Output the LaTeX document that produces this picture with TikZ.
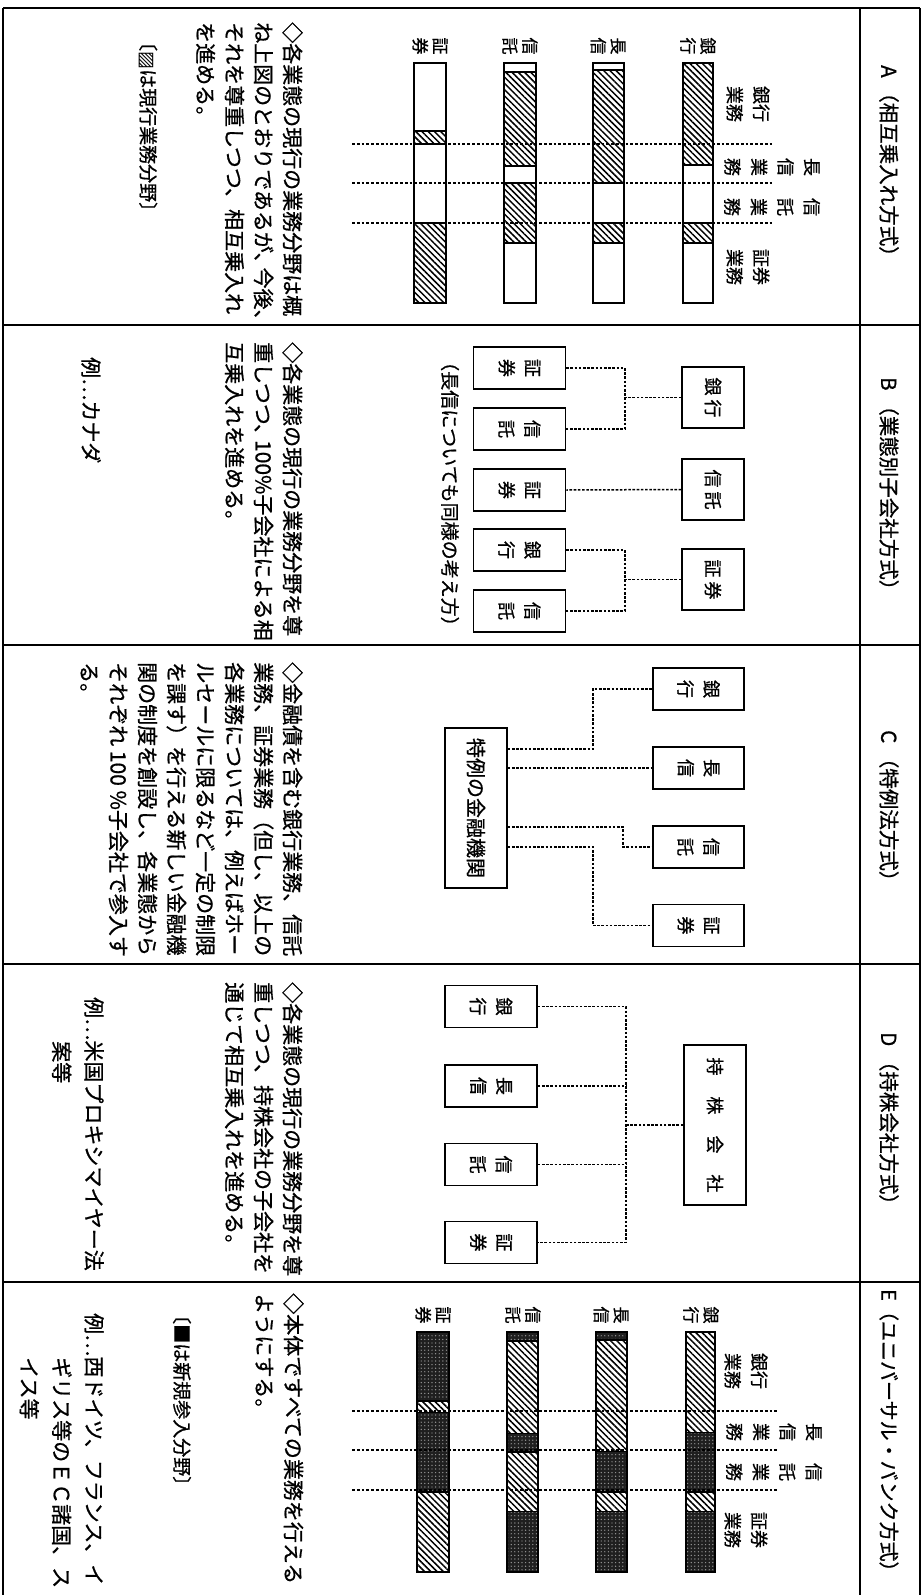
\documentclass[tikz,border=0pt]{standalone}
\usepackage{fontspec}
\setmainfont{Noto Sans CJK JP}[FakeBold=0.8]
\newfontfamily\djv{DejaVu Sans}
\usetikzlibrary{patterns.meta}
\newcommand\jbody{\fontsize{21pt}{29pt}\selectfont}
\newcommand\jhead{\fontsize{20.5pt}{24pt}\selectfont}
\newcommand\jnote{\fontsize{19pt}{24pt}\selectfont}
\newcommand\jlab{\fontsize{17pt}{20pt}\selectfont}
\newcommand\jcol{\fontsize{18pt}{26.5pt}\selectfont}
\newcommand\jbox{\fontsize{18pt}{26pt}\selectfont}
\newcommand\jex{\fontsize{21pt}{32.5pt}\selectfont}
\newcommand\hseg[4]{\draw[barline,hatchfill] (#1,#3) rectangle (#2,#4);}
\newcommand\dseg[4]{\path[darkfill] (#1,#3) rectangle (#2,#4);}
\newcommand\bout[4]{\draw[barline] (#1,#3) rectangle (#2,#4);}
\tikzset{
 tframe/.style={line width=1.8pt},
 hdr/.style={rotate=-90, anchor=west, inner sep=0pt, font=\jhead},
 txtb/.style={rotate=-90, anchor=north west, inner sep=0pt, align=left, font=\jbody},
 notes/.style={rotate=-90, anchor=west, inner sep=0pt, font=\jnote},
 exm/.style={rotate=-90, anchor=north west, inner sep=0pt, align=left, font=\jex},
 blab/.style={rotate=-90, inner sep=0pt, align=center, font=\jlab},
 colh/.style={rotate=-90, inner sep=0pt, align=center, font=\jcol},
 jbx/.style={draw, line width=1.5pt, fill=white, rotate=-90, inner sep=0pt, align=center, font=\jbox},
 kid/.style={jbx, minimum width=42pt, minimum height=92pt},
 conn/.style={line width=1.5pt, dash pattern=on 2.6pt off 1.6pt},
 guide/.style={line width=1.4pt, dash pattern=on 2.8pt off 2pt},
 barline/.style={line width=1.4pt},
 hatchfill/.style={pattern={Lines[angle=-45,distance=4.4pt,line width=1.5pt]}},
 darkfill/.style={fill=black!88, postaction={pattern={Dots[distance=3.6pt,radius=0.7pt]}, pattern color=black!40}},
}
\begin{document}
\begin{tikzpicture}[x=1pt,y=-1pt]
\useasboundingbox (0,0) rectangle (923,1595);
\fill[white] (0,0) rectangle (923,1595);
% frame
\draw[tframe] (3,8) -- (920,8);
\draw[tframe] (3,8) -- (3,1600);
\draw[tframe] (920,8) -- (920,1600);
\draw[tframe] (860,8) -- (860,1600);
\draw[tframe] (3,325) -- (920,325);
\draw[tframe] (3,645) -- (920,645);
\draw[tframe] (3,964) -- (920,964);
\draw[tframe] (3,1282) -- (920,1282);
% headers
\node[hdr] (hA) at (889,65) {A （相互乗入れ方式）};
\node[hdr] (hB) at (889,377) {B （業態別子会社方式）};
\node[hdr] (hC) at (889,730) {C （特例法方式）};
\node[hdr] (hD) at (889,1032) {D （持株会社方式）};
\node[hdr, font=\fontsize{20pt}{24pt}\selectfont] (hE) at (889,1289) {E（ユニバーサル・バンク方式）};
% ---------- A ----------
\hseg{683}{713}{63}{165} \hseg{683}{713}{223}{243}
\hseg{593}{624}{70}{183} \hseg{593}{624}{223}{243}
\hseg{504}{536}{72}{166} \hseg{504}{536}{183}{243}
\hseg{414}{446}{131}{144} \hseg{414}{446}{223}{303}
\draw[guide] (352,144) -- (773,144);
\draw[guide] (352,183) -- (773,183);
\draw[guide] (352,223) -- (773,223);
\bout{683}{713}{63}{303} \bout{593}{624}{63}{303}
\bout{504}{536}{63}{303} \bout{414}{446}{63}{303}
\node[blab] (lA1) at (430,46) {証\\券};
\node[blab] (lA2) at (520,46) {信\\託};
\node[blab] (lA3) at (608,46) {長\\信};
\node[blab] (lA4) at (698,46) {銀\\行};
\node[colh] (kA1) at (748,104) {銀行\\業務};
\node[colh] (kA2) at (772,167) {長\\信\\業\\務};
\node[colh] (kA3) at (772,207) {信\\託\\業\\務};
\node[colh] (kA4) at (748,267) {証券\\業務};
\node[txtb] (tA) at (303,22) {◇各業態の現行の業務分野は概\\ね上図のとおりであるが、\kern-6pt 今後、\\それを尊重しつつ、相互乗入れ\\を進める。};
\node[notes] (nA) at (148,32) {〔{\djv ▨}は現行業務分野〕};
% ---------- B ----------
\coordinate (jB) at (625,0);
\node[kid] (b1) at (519.5,368) {証\\券};
\node[kid] (b2) at (519.5,429) {信\\託};
\node[kid] (b3) at (519.5,490) {証\\券};
\node[kid] (b4) at (519.5,550) {銀\\行};
\node[kid] (b5) at (519.5,611) {信\\託};
\node[jbx, minimum width=61pt, minimum height=62pt] (bp1) at (713,397.5) {銀\hspace{4pt}行};
\node[jbx, minimum width=61pt, minimum height=62pt] (bp2) at (713,489.5) {信\hspace{4pt}託};
\node[jbx, minimum width=61pt, minimum height=62pt] (bp3) at (713,579.5) {証\hspace{4pt}券};
\draw[conn] (bp1.south) -- (bp1.south -| jB);
\draw[conn] (b1.north) -- (b1.north -| jB) -- (b2.north -| jB) -- (b2.north);
\draw[conn] (bp2.south) -- (b3.north);
\draw[conn] (bp3.south) -- (bp3.south -| jB);
\draw[conn] (b4.north) -- (b4.north -| jB) -- (b5.north -| jB) -- (b5.north);
\node[notes] (nB) at (450,352) {（長信についても同様の考え方）};
\node[txtb] (tB) at (303,342) {◇各業態の現行の業務分野を尊\\重しつつ、\kern-5pt 100\%子会社による相\\互乗入れを進める。};
\node[exm] (eB) at (101,357) {例…カナダ};
% ---------- C ----------
\node[jbx, minimum width=160pt, minimum height=62pt, font=\fontsize{20pt}{24pt}\selectfont] (cm) at (476,808) {特例の金融機関};
\node[kid, minimum height=91pt] (c1) at (698.5,689) {銀\\行};
\node[kid, minimum height=91pt] (c2) at (698.5,768) {長\\信};
\node[kid, minimum height=91pt] (c3) at (698.5,847) {信\\託};
\node[kid, minimum height=91pt] (c4) at (698.5,925.5) {証\\券};
\coordinate (jC1) at (593,749);
\coordinate (jC3) at (623,827);
\coordinate (jC4) at (593,847);
\draw[conn] (jC1 -| cm.north) -- (jC1) |- (c1.south);
\draw[conn] (cm.north |- c2.south) -- (c2.south);
\draw[conn] (jC3 -| cm.north) -- (jC3) |- (c3.south);
\draw[conn] (jC4 -| cm.north) -- (jC4) |- (c4.south);
\node[txtb] (tC) at (303,662) {◇金融債を含む銀行業務、信託\\業務、証券業務（但し、以上の\\各業務については、例えばホー\\ルセールに限るなど一定の制限\\を課す）を行える新しい金融機\\関の制度を創設し、各業態から\\それぞれ 100 \%子会社で参入す\\る。};
% ---------- D ----------
\node[kid] (d1) at (491,1006.5) {銀\\行};
\node[kid] (d2) at (491,1086) {長\\信};
\node[kid] (d3) at (491,1164.5) {信\\託};
\node[kid] (d4) at (491,1242.5) {証\\券};
\node[jbx, minimum width=160pt, minimum height=62pt] (dp) at (715,1125) {持\hspace{21pt}株\hspace{21pt}会\hspace{21pt}社};
\coordinate (jD) at (626,0);
\draw[conn] (d1.north) -- (d1.north -| jD) -- (d4.north -| jD) -- (d4.north);
\draw[conn] (d2.north) -- (d2.north -| jD);
\draw[conn] (d3.north) -- (d3.north -| jD);
\draw[conn] (dp.south) -- (dp.south -| jD);
\node[txtb] (tD) at (303,982) {◇各業態の現行の業務分野を尊\\重しつつ、持株会社の子会社を\\通じて相互乗入れを進める。};
\node[exm] (eD) at (104,997) {例…米国プロキシマイヤー法\\\hspace*{44pt}案等};
% ---------- E ----------
\hseg{686}{715}{1332}{1433} \dseg{686}{715}{1433}{1492} \hseg{686}{715}{1492}{1512} \dseg{686}{715}{1512}{1572}
\dseg{596}{627}{1332}{1340} \hseg{596}{627}{1340}{1452} \dseg{596}{627}{1452}{1492} \hseg{596}{627}{1492}{1512} \dseg{596}{627}{1512}{1572}
\dseg{507}{538}{1332}{1341} \hseg{507}{538}{1341}{1434} \dseg{507}{538}{1434}{1452} \hseg{507}{538}{1452}{1512} \dseg{507}{538}{1512}{1572}
\dseg{417}{449}{1332}{1401} \hseg{417}{449}{1401}{1413} \dseg{417}{449}{1413}{1492} \hseg{417}{449}{1492}{1572}
\draw[guide] (352,1411) -- (777,1411);
\draw[guide] (352,1450) -- (777,1450);
\draw[guide] (352,1490) -- (777,1490);
\bout{686}{715}{1332}{1572} \bout{596}{627}{1332}{1572}
\bout{507}{538}{1332}{1572} \bout{417}{449}{1332}{1572}
\node[blab] (lE1) at (433,1315) {証\\券};
\node[blab] (lE2) at (523,1315) {信\\託};
\node[blab] (lE3) at (611,1315) {長\\信};
\node[blab] (lE4) at (701,1315) {銀\\行};
\node[colh] (kE1) at (746,1371) {銀行\\業務};
\node[colh] (kE2) at (774,1432) {長\\信\\業\\務};
\node[colh] (kE3) at (774,1472) {信\\託\\業\\務};
\node[colh] (kE4) at (746,1530) {証券\\業務};
\node[txtb] (tE) at (304,1293) {◇本体ですべての業務を行える\\ようにする。};
\node[notes] (nE) at (182,1305) {〔■は新規参入分野〕};
\node[exm] (eE) at (104,1313) {例…西ドイツ、フランス、イ\\\hspace*{44pt}ギリス等のＥＣ諸国、ス\\\hspace*{44pt}イス等};
\end{tikzpicture}
\end{document}
